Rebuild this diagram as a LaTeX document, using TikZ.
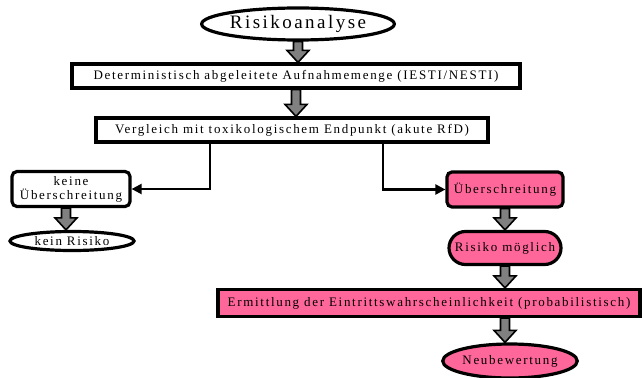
\documentclass[tikz,border=0pt]{standalone}
\usepackage{fontspec}
\setmainfont{Liberation Serif}[LetterSpace=13]
\usepackage{xcolor}
\usetikzlibrary{arrows.meta,calc,positioning,shapes.geometric,shapes.misc}
\definecolor{riskpink}{RGB}{255,102,153}
\definecolor{shaftgray}{RGB}{128,128,128}

% broad grey block arrow, drawn from the x of the first point down to the second
\newcommand{\fatarrow}[2]{%
  \draw[fatarr] let \p1=#1, \p2=#2 in
    (\x1-4.5pt,\y1) -- (\x1+4.5pt,\y1) -- (\x1+4.5pt,\y2+12pt) -- (\x1+11pt,\y2+12pt)
    -- (\x1,\y2) -- (\x1-11pt,\y2+12pt) -- (\x1-4.5pt,\y2+12pt) -- cycle;}

\begin{document}
\begin{tikzpicture}[x=1pt,y=-1pt,
    txt/.style={font=\fontsize{13}{15}\selectfont},
    step box/.style={txt,draw,line width=3.2pt,inner sep=2pt},
    rbox/.style={step box,rounded corners=5pt},
    oval/.style={step box,ellipse,inner sep=0pt},
    pinkbox/.style={fill=riskpink},
    fatarr/.style={fill=shaftgray,draw=black,line width=1.6pt},
    conn/.style={-{Triangle[length=10pt,width=10pt]},line width=2.2pt}]
  \useasboundingbox (0,0) rectangle (644,377);

  % main column
  \node[oval,minimum width=192pt,minimum height=32pt,
        font=\fontsize{19}{21}\selectfont] (start) at (298,24) {Risikoanalyse};
  \node[step box,minimum width=448pt,minimum height=24pt] (determ) at (296,76)
    {Deterministisch abgeleitete Aufnahmemenge (IESTI/NESTI)};
  \node[step box,minimum width=392pt,minimum height=24pt] (vergleich) at (292,130)
    {Vergleich mit toxikologischem Endpunkt (akute RfD)};

  % left branch: no exceedance
  \node[rbox,minimum width=118pt,minimum height=35pt,align=center] (keine) at (71,189)
    {keine\\[-1pt]Überschreitung};
  \node[oval,minimum width=124pt,minimum height=19pt] (keinrisiko) at (72,241)
    {kein Risiko};

  % right branch: exceedance
  \node[rbox,pinkbox,minimum width=116pt,minimum height=35pt] (ueber) at (505,189.5)
    {Überschreitung};
  \node[step box,pinkbox,rounded rectangle,minimum width=116pt,minimum height=33pt]
    (moeglich) at (505,248) {Risiko möglich};
  \node[step box,pinkbox,minimum width=422pt,minimum height=27pt] (ermittlung) at (429,303)
    {Ermittlung der Eintrittswahrscheinlichkeit (probabilistisch)};
  \node[oval,pinkbox,minimum width=134pt,minimum height=34pt] (neu) at (510,361)
    {Neubewertung};

  % block arrows
  \fatarrow{(start.south)}{(determ.north)}
  \fatarrow{(determ.south)}{(vergleich.north)}
  \fatarrow{([xshift=-5pt]keine.south)}{(keinrisiko.north)}
  \fatarrow{(ueber.south)}{(moeglich.north)}
  \fatarrow{(moeglich.south)}{(ermittlung.north)}
  \fatarrow{(ermittlung.south -| moeglich.south)}{(neu.north)}

  % branching connectors
  \draw[conn] ([xshift=-82pt]vergleich.south) |- (keine.east);
  \draw[conn] ([xshift=91pt]vergleich.south) |- (ueber.west);
\end{tikzpicture}
\end{document}
